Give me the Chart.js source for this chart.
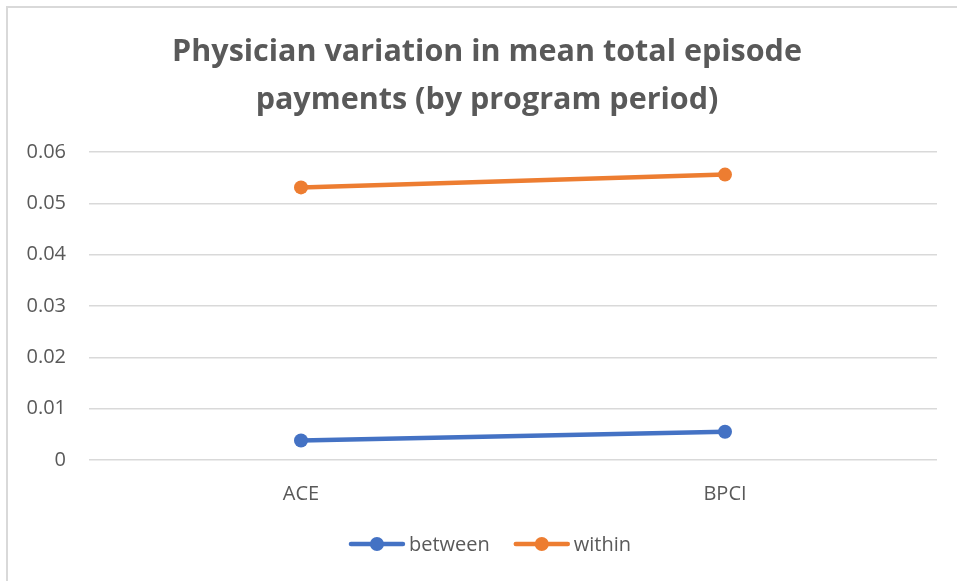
<!DOCTYPE html>
<html>
<head>
<meta charset="utf-8">
<script src="https://cdn.jsdelivr.net/npm/chart.js@4.4.0/dist/chart.umd.min.js"></script>
<style>
    html, body { margin: 0; padding: 0; background: #fff; }
    #wrap {
        position: absolute;
        left: 0; top: 0;
        width: 957px; height: 581px;
    }
    #frame {
        position: absolute;
        left: 6px; top: 6px;
        width: 960px; height: 590px;
        border-left: 2px solid #d9d9d9;
        border-top: 2px solid #d9d9d9;
        pointer-events: none;
    }
</style>
</head>
<body>
<div id="wrap">
    <canvas id="lineChart" width="957" height="581"></canvas>
    <div id="frame"></div>
</div>
<script>
// data
const categories = ['ACE', 'BPCI'];
const betweenValues = [0.0038, 0.0055];
const withinValues = [0.0531, 0.0556];
const yTickLabels = ['0', '0.01', '0.02', '0.03', '0.04', '0.05', '0.06'];
const titleLines = ['Physician variation in mean total episode', 'payments (by program period)'];

const BLUE = '#4472c4';
const ORANGE = '#ed7d31';
const TEXT = '#595959';
const GRID = '#d9d9d9';
const FONT = "'Open Sans', 'Noto Sans', sans-serif";

// Title drawn by hand so it can sit where Excel put it (a bit right of centre)
const chartTitle = {
    id: 'chartTitle',
    afterDraw(chart) {
        const ctx = chart.ctx;
        ctx.save();
        ctx.font = 'bold 30.5px ' + FONT;
        ctx.fillStyle = TEXT;
        ctx.textAlign = 'center';
        ctx.textBaseline = 'middle';
        titleLines.forEach((line, i) => {
            ctx.fillText(line, 487, 52 + i * 48);
        });
        ctx.restore();
    }
};

// Excel-style legend: thick line with a dot in the middle, drawn by hand
const lineLegend = {
    id: 'lineLegend',
    afterDraw(chart) {
        const ctx = chart.ctx;
        const lineLen = 56;
        const textGap = 4;
        const itemGap = 24;
        const centerX = 490;
        const y = 544;

        ctx.save();
        ctx.font = '20px ' + FONT;
        const items = chart.data.datasets.map(ds => ({
            label: ds.label,
            color: ds.borderColor,
            width: lineLen + textGap + ctx.measureText(ds.label).width
        }));
        const total = items.reduce((s, it) => s + it.width, 0) + itemGap * (items.length - 1);
        let x = centerX - total / 2;

        items.forEach(it => {
            ctx.strokeStyle = it.color;
            ctx.lineWidth = 4.5;
            ctx.lineCap = 'round';
            ctx.beginPath();
            ctx.moveTo(x + 2, y);
            ctx.lineTo(x + lineLen - 2, y);
            ctx.stroke();

            ctx.fillStyle = it.color;
            ctx.beginPath();
            ctx.arc(x + lineLen / 2, y, 7, 0, Math.PI * 2);
            ctx.fill();

            ctx.fillStyle = TEXT;
            ctx.textBaseline = 'middle';
            ctx.textAlign = 'left';
            ctx.fillText(it.label, x + lineLen + textGap, y + 1);
            x += it.width + itemGap;
        });
        ctx.restore();
    }
};

const ctx = document.getElementById('lineChart').getContext('2d');

new Chart(ctx, {
    type: 'line',
    data: {
        labels: categories,
        datasets: [
            {
                label: 'between',
                data: betweenValues,
                borderColor: BLUE,
                backgroundColor: BLUE,
                borderWidth: 4.5,
                pointRadius: 7,
                pointBackgroundColor: BLUE,
                pointBorderWidth: 0,
                tension: 0
            },
            {
                label: 'within',
                data: withinValues,
                borderColor: ORANGE,
                backgroundColor: ORANGE,
                borderWidth: 4.5,
                pointRadius: 7,
                pointBackgroundColor: ORANGE,
                pointBorderWidth: 0,
                tension: 0
            }
        ]
    },
    options: {
        responsive: false,
        animation: false,
        layout: {
            padding: { left: 0, right: 20, top: 152, bottom: 61 }
        },
        plugins: {
            legend: { display: false },
            tooltip: { enabled: false },
            title: { display: false }
        },
        scales: {
            x: {
                offset: true,
                grid: { display: false },
                border: { display: false },
                ticks: {
                    color: TEXT,
                    font: { family: FONT, size: 20 },
                    padding: 14
                },
                afterFit(scale) {
                    scale.height = 60;
                }
            },
            y: {
                min: 0,
                max: 0.06,
                grid: {
                    color: GRID,
                    lineWidth: 1.5,
                    drawTicks: false
                },
                border: { display: false },
                ticks: {
                    stepSize: 0.01,
                    color: TEXT,
                    font: { family: FONT, size: 20 },
                    padding: 23,
                    callback: function(value, index) {
                        return yTickLabels[index];
                    }
                },
                afterFit(scale) {
                    scale.width = 89;
                }
            }
        }
    },
    plugins: [chartTitle, lineLegend]
});
</script>
</body>
</html>
